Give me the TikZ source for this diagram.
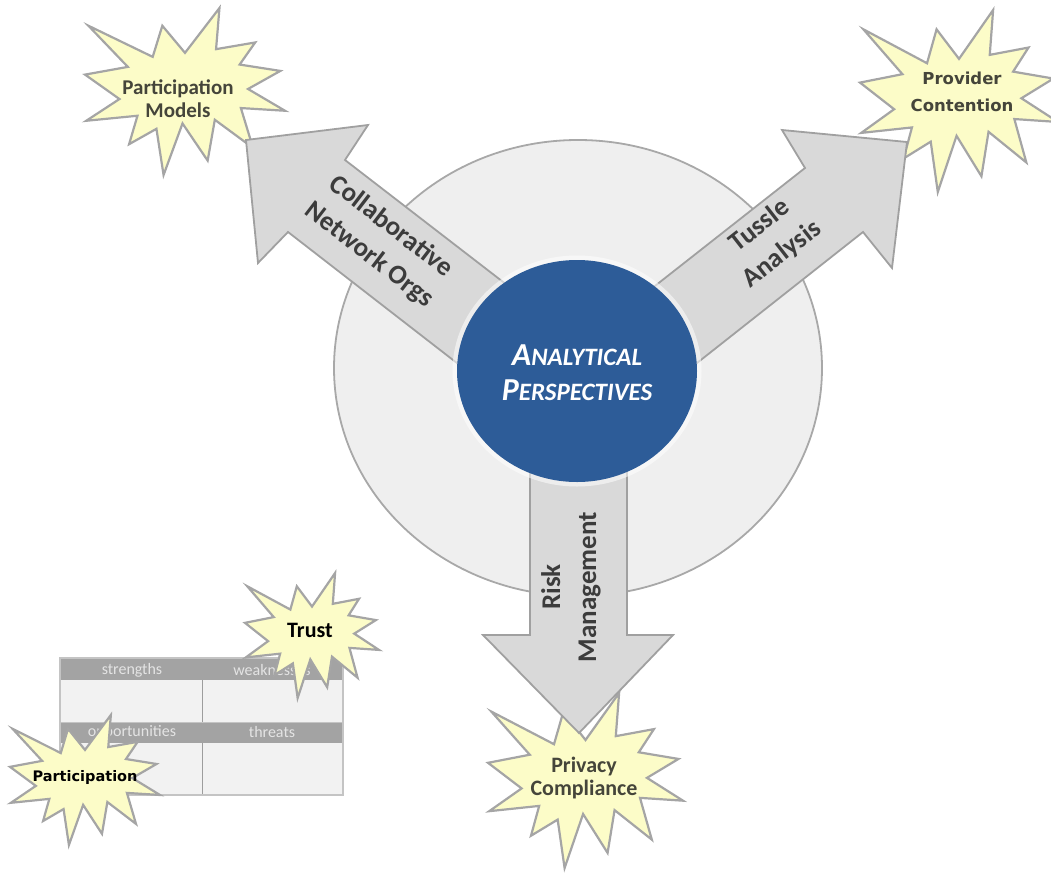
\documentclass[tikz,border=0pt]{standalone}
\usepackage{fontspec}
\setmainfont{Carlito}
\newfontfamily\dejavu{DejaVu Sans}

\definecolor{ringfill}{HTML}{EFEFEF}
\definecolor{ringline}{HTML}{A8A8A8}
\definecolor{arrowfill}{HTML}{D9D9D9}
\definecolor{arrowline}{HTML}{A0A0A0}
\definecolor{hubblue}{HTML}{2D5C98}
\definecolor{burstfill}{HTML}{FCFCC8}
\definecolor{burstline}{HTML}{A5A5A5}
\definecolor{labelgray}{HTML}{3C3C3C}
\definecolor{bursttext}{HTML}{45453A}
\definecolor{swothead}{HTML}{A3A3A3}
\definecolor{swotbody}{HTML}{F2F2F2}
\definecolor{swotline}{HTML}{C4C4C4}
\definecolor{swottext}{HTML}{E4E4E4}

\tikzset{
  burststyle/.style={fill=burstfill, draw=burstline, line width=2.2pt, line join=miter},
  blockarrow/.style={fill=arrowfill, draw=arrowline, line width=1.8pt, line join=miter},
  arrowlabel/.style={text=labelgray, align=center, inner sep=0pt,
    font=\fontsize{27}{36}\selectfont\bfseries},
  burstlabel/.style={text=bursttext, align=center, inner sep=0pt,
    font=\fontsize{21}{23}\selectfont\bfseries},
  swotlabel/.style={text=swottext, inner sep=0pt, font=\fontsize{16}{18}\selectfont},
}

% explosion outline, drawn in a 216 x 216 box and scaled to w x h at (x0,y0)
\newcommand\burst[4]{%
  \begin{scope}[shift={(#1,#2)}, xscale=#3/216, yscale=#4/216]
    \draw[burststyle] (108,58) -- (145.22,0) -- (141.55,53.25) -- (183.80,44.57)
      -- (167.02,73.15) -- (210.97,81.37) -- (176.07,104.75) -- (216,132.90)
      -- (168.37,129.42) -- (181.45,180.95) -- (140.20,144.57) -- (132.47,197.37)
      -- (105.32,149.35) -- (84.85,216) -- (77.15,156.27) -- (47.62,176.17)
      -- (56.67,139.37) -- (1.35,145.87) -- (37.22,117.75) -- (0,86.15)
      -- (46.27,76.17) -- (3.70,22.95) -- (73.12,63.20) -- (83.52,22.95) -- cycle;
  \end{scope}}

% small-caps lettering: one large initial, the rest smaller
\newcommand\capsword[2]{{\fontsize{32}{35}\selectfont #1}{\fontsize{25}{35}\selectfont #2}}

\begin{document}
\begin{tikzpicture}[x=1pt, y=-1pt]
\useasboundingbox (0,0) rectangle (1051,872);

% background ring
\filldraw[fill=ringfill, draw=ringline, line width=1.8pt]
  (578,368) ellipse [x radius=244, y radius=228];

% SWOT grid
\fill[swotbody] (60,658) rectangle (343,795);
\fill[swothead] (60,658) rectangle (343,680);
\fill[swothead] (60,722) rectangle (343,743);
\draw[swotline, line width=1pt] (60,722) -- (343,722);
\draw[swotline!80!black, line width=1pt] (202,680) -- (202,722) (202,743) -- (202,795);
\draw[swotline, line width=2pt] (60,658) rectangle (343,795);
\node[swotlabel] (sw1) at (132,670) {strengths};
\node[swotlabel] (sw2) at (272,670) {weaknesses};
\node[swotlabel] (sw3) at (132,732) {opportunities};
\node[swotlabel] (sw4) at (272,732) {threats};

% explosions
\burst{85}{8}{200}{167}
\burst{860}{10}{198}{182}
\burst{488}{693}{195}{175}
\burst{245}{573}{134}{125}
\burst{10}{715}{150}{130}

% block arrows
\draw[blockarrow] (520,295) -- (345,160) -- (368,125) -- (246,140) -- (258,263)
  -- (288,232) -- (493,391) -- cycle;
\draw[blockarrow] (632,304) -- (805,168) -- (782,130) -- (907,142) -- (892,268)
  -- (863,232) -- (659,393) -- cycle;
\draw[blockarrow] (530,420) -- (530,635) -- (483,635) -- (579,733) -- (673,635)
  -- (627,635) -- (627,420) -- cycle;

% hub
\draw[white, opacity=0.55, line width=7pt] (577,371) ellipse [x radius=121, y radius=112];
\fill[hubblue] (577,371) ellipse [x radius=120, y radius=111];
\node[text=white, align=center, inner sep=0pt,
  font=\fontsize{25}{35}\selectfont\bfseries\itshape] (hub) at (577,373)
  {\capsword{A}{NALYTICAL}\\\capsword{P}{ERSPECTIVES}};

% arrow labels
\node[arrowlabel, rotate=-37.5] (cno) at (380,241) {Collaborative\\Network Orgs};
\node[arrowlabel, rotate=38] (tussle) at (771,240) {Tussle\\Analysis};
\node[arrowlabel, rotate=90] (risk) at (571,587) {Risk\\Management};

% explosion labels
\node[burstlabel] (pm) at (178,99) {Participation\\Models};
\node[burstlabel, font=\dejavu\fontsize{16.5}{27}\selectfont\bfseries] (pc) at (962,92)
  {Provider\\Contention};
\node[burstlabel, font=\fontsize{22}{23}\selectfont\bfseries] (privacy) at (584,778)
  {Privacy\\Compliance};
\node[burstlabel, text=black, font=\fontsize{22}{23}\selectfont\bfseries] (trust) at (310,630) {Trust};
\node[burstlabel, text=black, font=\dejavu\fontsize{14.5}{16}\selectfont\bfseries] (part) at (85,777)
  {Participation};
\end{tikzpicture}
\end{document}
